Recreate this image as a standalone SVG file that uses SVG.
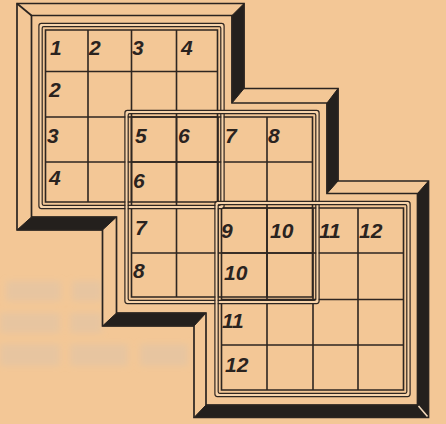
<svg xmlns="http://www.w3.org/2000/svg" width="446" height="424" viewBox="0 0 446 424">
<defs>
<filter id="soft" x="-20%" y="-50%" width="140%" height="200%"><feGaussianBlur stdDeviation="3"/></filter>
</defs>
<style>
.bg{fill:#f3c796}
.smudge{fill:#d9c3ad;opacity:0.45}
.dark{fill:#24201d;stroke:#24201d;stroke-width:1;stroke-linejoin:round}
.edge{fill:none;stroke:#2a2420;stroke-width:1.7;stroke-linejoin:miter}
.cell{fill:none;stroke:#2e2621;stroke-width:1.6}
.ko{fill:none;stroke:#f7d4ab;stroke-width:2.4}
.fr{fill:none;stroke:#2e2621;stroke-width:1.2}
.num{font-family:"Liberation Sans","DejaVu Sans",sans-serif;font-style:italic;font-weight:bold;font-size:21px;fill:#2a231f}
</style>
<rect class="bg" x="0" y="0" width="446" height="424"/>
<g id="paper-marks" filter="url(#soft)">
  <rect class="smudge" x="6" y="281" width="55" height="20"/>
  <rect class="smudge" x="72" y="281" width="30" height="20"/>
  <rect class="smudge" x="0" y="313" width="60" height="20"/>
  <rect class="smudge" x="70" y="313" width="32" height="20"/>
  <rect class="smudge" x="0" y="344" width="60" height="22"/>
  <rect class="smudge" x="70" y="344" width="58" height="22"/>
  <rect class="smudge" x="140" y="344" width="48" height="22"/>
</g>

<g id="bevel">
  <polygon class="dark" points="232,15.5 244,3.5 244,88.5 232,103"/>
  <polygon class="dark" points="17,230 31.5,217 116.5,217 102.5,230"/>
  <polygon class="dark" points="327,103 338,88.5 338,181 327,193.5"/>
  <polygon class="dark" points="102.5,326 116.5,313 206,313 194,326"/>
  <polygon class="dark" points="417.5,193.5 428.5,181 428.5,417.5 417.5,405"/>
  <polygon class="dark" points="194,417.5 206,405 417.5,405 428.5,417.5"/>
  <polygon class="edge" points="17,3.5 244,3.5 244,88.5 338,88.5 338,181 428.5,181 428.5,417.5 194,417.5 194,326 102.5,326 102.5,230 17,230"/>
  <polygon class="edge" points="31.5,15.5 232,15.5 232,103 327,103 327,193.5 417.5,193.5 417.5,405 206,405 206,313 116.5,313 116.5,217 31.5,217"/>
  <path class="edge" d="M17 3.5 L31.5 15.5"/>
  <path d="M418.5 406 L427.5 416.5" fill="none" stroke="#f3d9bb" stroke-width="1.6"/>
</g>

<g id="grid1">
  <path class="cell" d="M45.5 30 H217.5 V202 H45.5 Z M88 30 V202 M131.5 30 V202 M176.5 30 V202 M45.5 71.5 H217.5 M45.5 117 H217.5 M45.5 162 H217.5"/>
</g>
<g id="grid2">
  <path class="cell" d="M131.5 117 H312.5 V297 H131.5 Z M176.5 117 V297 M218 117 V297 M267 117 V297 M131.5 162 H312.5 M131.5 208 H312.5 M131.5 253 H312.5"/>
</g>
<g id="grid3">
  <path class="cell" d="M221.5 208 H403.5 V390 H221.5 Z M267 208 V390 M313 208 V390 M358 208 V390 M221.5 253 H403.5 M221.5 299.5 H403.5 M221.5 345 H403.5"/>
</g>

<g id="frames">
  <rect class="ko" x="40.55" y="25.05" width="181.9" height="181.9" rx="2"/>
  <rect class="fr" x="42.2" y="26.7" width="178.6" height="178.6" rx="1.5"/>
  <rect class="fr" x="38.9" y="23.4" width="185.2" height="185.2" rx="2.5"/>
  <rect class="ko" x="126.55" y="112.05" width="190.9" height="189.9" rx="2"/>
  <rect class="fr" x="128.2" y="113.7" width="187.6" height="186.6" rx="1.5"/>
  <rect class="fr" x="124.9" y="110.4" width="194.2" height="193.2" rx="2.5"/>
  <rect class="ko" x="216.55" y="203.05" width="191.9" height="191.9" rx="2"/>
  <rect class="fr" x="218.2" y="204.7" width="188.6" height="188.6" rx="1.5"/>
  <rect class="fr" x="214.9" y="201.4" width="195.2" height="195.2" rx="2.5"/>
</g>

<g id="labels1">
  <text class="num" x="50" y="55">1</text>
  <text class="num" x="89" y="55">2</text>
  <text class="num" x="132" y="55">3</text>
  <text class="num" x="181" y="55">4</text>
  <text class="num" x="49" y="97">2</text>
  <text class="num" x="47" y="143">3</text>
  <text class="num" x="49" y="185">4</text>
</g>
<g id="labels2">
  <text class="num" x="135" y="143">5</text>
  <text class="num" x="178" y="143">6</text>
  <text class="num" x="225" y="143">7</text>
  <text class="num" x="268" y="143">8</text>
  <text class="num" x="133" y="188">6</text>
  <text class="num" x="135" y="235">7</text>
  <text class="num" x="133" y="278">8</text>
</g>
<g id="labels3">
  <text class="num" x="221" y="238">9</text>
  <text class="num" x="270" y="238">10</text>
  <text class="num" x="319" y="238">11</text>
  <text class="num" x="359" y="238">12</text>
  <text class="num" x="224" y="280">10</text>
  <text class="num" x="222" y="328">11</text>
  <text class="num" x="225" y="372">12</text>
</g>
</svg>
